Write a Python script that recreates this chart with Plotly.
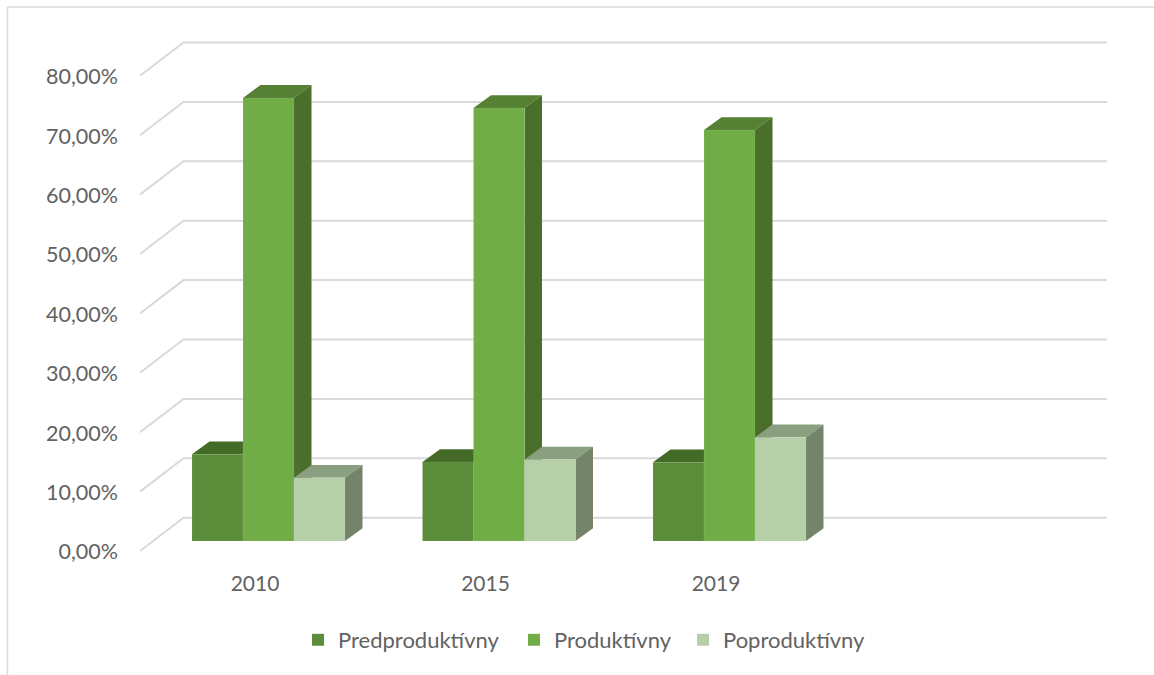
import plotly.graph_objects as go

categories = ["2010", "2015", "2019"]
predproduktivny = [14.6, 13.3, 13.25]
produktivny = [74.6, 72.9, 69.2]
poproduktivny = [10.65, 13.7, 17.45]
tick_values = [0, 10, 20, 30, 40, 50, 60, 70, 80]
tick_labels = ["0,00%", "10,00%", "20,00%", "30,00%", "40,00%", "50,00%", "60,00%", "70,00%", "80,00%"]

names = ["Predproduktívny", "Produktívny", "Poproduktívny"]
values = [predproduktivny, produktivny, poproduktivny]
front = ["#5B8C39", "#70AD47", "#B5CFA8"]
top = ["#436B27", "#568034", "#8A9F7F"]
side = ["#436B27", "#4A6F2B", "#74846A"]
legend_px = [298, 514, 683]
text_color = "#626262"

W, H = 1154, 675
L, R, T, B = 140, 1107, 30, 560
PX_X = 230.5   # pixels per category
PX_Y = 5.94    # pixels per percentage point
ZERO_PX = 541
FIRST_PX = 268.5
x_lo = (L - FIRST_PX) / PX_X
x_hi = (R - FIRST_PX) / PX_X
y_lo = (ZERO_PX - B) / PX_Y
y_hi = (ZERO_PX - T) / PX_Y

bar_w = 51 / PX_X
dx = 17.5 / PX_X
dy = 12.8 / PX_Y
wall_x = x_lo + 43.5 / PX_X
wall_dy = 23.3 / PX_Y
front_dy = -10 / PX_Y

shapes = []
grid = dict(color="#D9D9D9", width=2)
for v in tick_values:
    y0, y1 = v + front_dy, v + wall_dy
    shapes.append(dict(type="path", xref="x", yref="y", layer="below", line=grid,
                       path=f"M {x_lo} {y0} L {wall_x} {y1} L {x_hi} {y1}"))

for s, series in enumerate(values):
    for i, v in enumerate(series):
        x0 = i + (s - 1.5) * bar_w
        x1 = x0 + bar_w
        shapes.append(dict(type="path", xref="x", yref="y", layer="below",
                           fillcolor=top[s], line=dict(width=0),
                           path=f"M {x0} {v} L {x0+dx} {v+dy} L {x1+dx} {v+dy} L {x1} {v} Z"))
        shapes.append(dict(type="path", xref="x", yref="y", layer="below",
                           fillcolor=side[s], line=dict(width=0),
                           path=f"M {x1} 0 L {x1+dx} {dy} L {x1+dx} {v+dy} L {x1} {v} Z"))

# chart frame
pw, ph = R - L, B - T
fx = lambda px: (px - L) / pw
fy = lambda px: (B - px) / ph
frame = dict(color="#D9D9D9", width=1.5)
shapes.append(dict(type="line", xref="paper", yref="paper", layer="below", line=frame,
                   x0=fx(7.5), x1=fx(W), y0=fy(7), y1=fy(7)))
shapes.append(dict(type="line", xref="paper", yref="paper", layer="below", line=frame,
                   x0=fx(7.5), x1=fx(7.5), y0=fy(7), y1=fy(H)))

fig = go.Figure()
legend_ids = ["legend", "legend2", "legend3"]
for s, series in enumerate(values):
    fig.add_trace(go.Bar(name=names[s], x=list(range(len(categories))), y=series,
                         legend=legend_ids[s],
                         marker=dict(color=front[s], line=dict(color="rgba(255,255,255,0.2)", width=0.4))))

legend_layout = {
    legend_ids[s]: dict(orientation="h", x=fx(legend_px[s]), xanchor="left",
                        y=fy(640), yanchor="middle", bgcolor="rgba(0,0,0,0)",
                        font=dict(family="Lato", size=22, color=text_color))
    for s in range(3)
}

fig.update_layout(
    width=W, height=H, autosize=False,
    margin=dict(l=L, r=W - R, t=T, b=H - B, pad=0),
    paper_bgcolor="white", plot_bgcolor="rgba(0,0,0,0)",
    barmode="group", bargap=1 - 3 * bar_w, bargroupgap=0,
    font=dict(family="Lato", size=21, color=text_color),
    shapes=shapes,
    xaxis=dict(range=[x_lo, x_hi], showgrid=False, zeroline=False, showline=False,
               tickmode="array", tickvals=[i - 13.5 / PX_X for i in range(len(categories))],
               ticktext=categories, ticks="", ticklabelstandoff=9,
               tickfont=dict(family="Lato", size=21, color=text_color)),
    yaxis=dict(range=[y_lo, y_hi], showgrid=False, zeroline=False, showline=False,
               tickmode="array", tickvals=[v - 10.9 / PX_Y for v in tick_values],
               ticktext=tick_labels, ticks="", ticklabelstandoff=21,
               tickfont=dict(family="Lato", size=21.5, color=text_color)),
    showlegend=True,
    **legend_layout,
)
fig.write_html("out.html", config={"displayModeBar": False},
               post_script="document.body.style.margin='0';")
